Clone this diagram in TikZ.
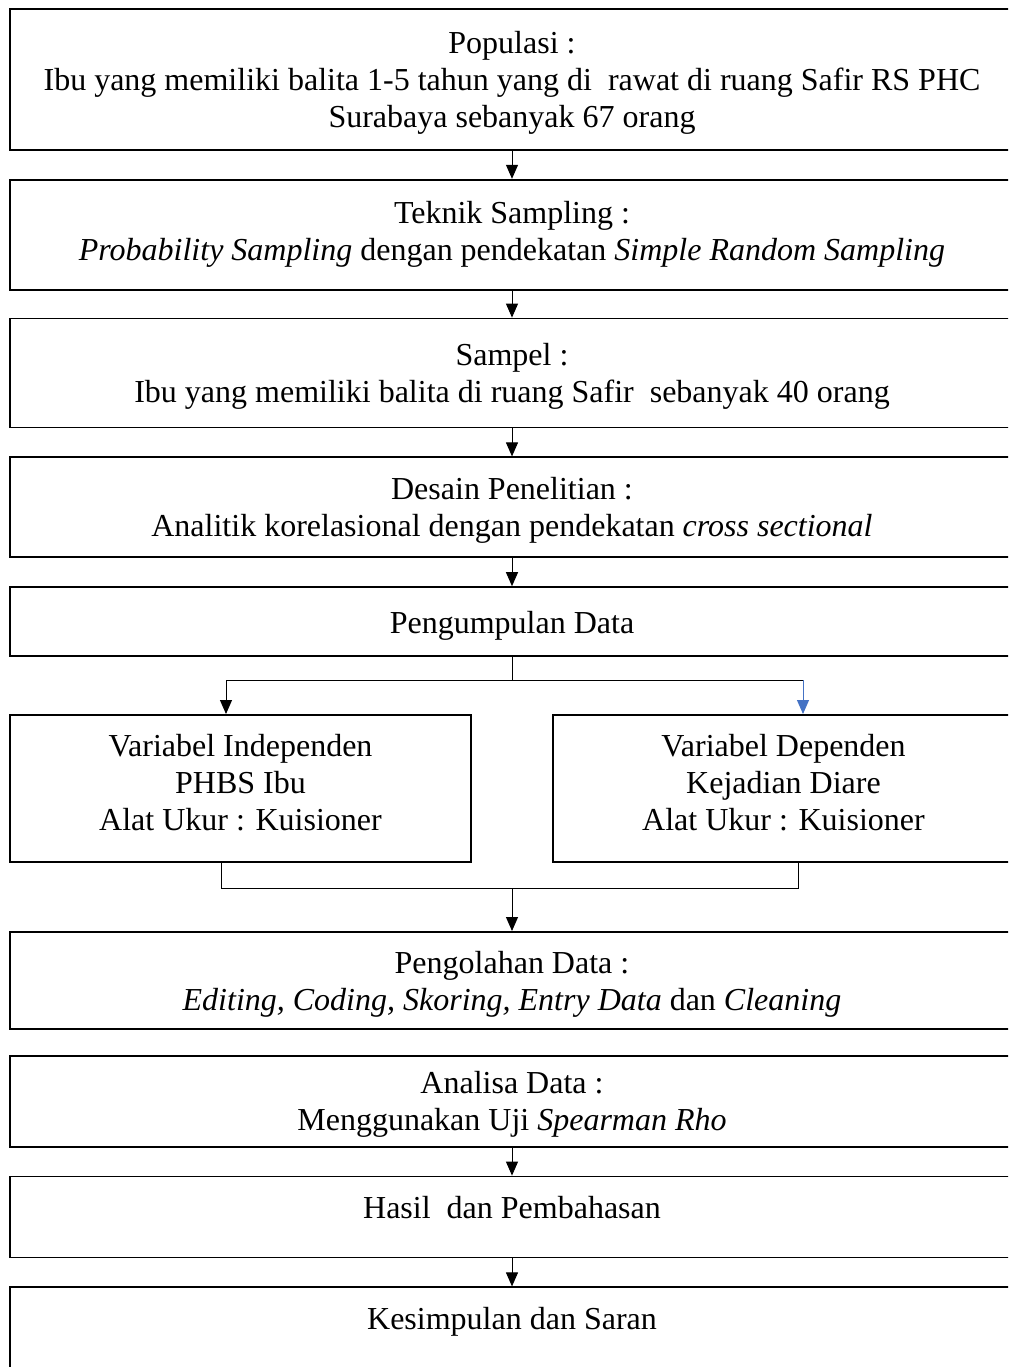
\documentclass[tikz,border=0pt]{standalone}
\usepackage{fontspec}
\setmainfont{Liberation Serif}
\usetikzlibrary{positioning,arrows.meta}
\definecolor{arrowblue}{HTML}{4472C4}

\tikzset{
  box/.style={draw,line width=0.9pt,minimum width=502pt,align=center,
    inner sep=0pt,font=\fontsize{16}{18.5}\selectfont},
  varbox/.style={box,minimum width=230.5pt,minimum height=73.5pt,text depth=6.5pt},
  link/.style={line width=0.5pt,-{Triangle[length=7pt,width=6pt]}},
  wire/.style={line width=0.5pt},
}

\begin{document}
\begin{tikzpicture}
   \useasboundingbox (0,0) rectangle (504pt,-683.5pt);
   \clip (0,0) rectangle (504pt,-683.5pt);

   \node[box,minimum height=70.5pt,text depth=-0.5pt,anchor=north] (popul) at (256pt,-4pt)
      {Populasi :\\Ibu yang memiliki balita 1-5 tahun yang di~ rawat di ruang Safir RS PHC\\Surabaya sebanyak 67 orang};
   \node[box,minimum height=55pt] (teknik) [below=14pt of popul]
      {Teknik Sampling :\\\textit{Probability Sampling} dengan pendekatan \textit{Simple Random Sampling}};
   \node[box,minimum height=54.5pt,text depth=-0.5pt] (sampel) [below=13.5pt of teknik]
      {Sampel :\\Ibu yang memiliki balita di ruang Safir~ sebanyak 40 orang};
   \node[box,minimum height=50pt,text depth=0pt] (desain) [below=14pt of sampel]
      {Desain Penelitian :\\Analitik korelasional dengan pendekatan \textit{cross sectional}};
   \node[box,minimum height=34.5pt,text height=15pt,text depth=3.5pt] (kumpul) [below=14pt of desain]
      {Pengumpulan Data};
   \node[varbox,below=28.5pt of kumpul.south west,anchor=north west] (varL)
      {Variabel Independen\\PHBS Ibu\\Alat Ukur : Kuisioner};
   \node[varbox,below=28.5pt of kumpul.south east,anchor=north east] (varR)
      {Variabel Dependen\\Kejadian Diare\\Alat Ukur : Kuisioner};

   \coordinate (splitL) at (113pt,-340pt);
   \coordinate (splitR) at (401.5pt,-340pt);
   \coordinate (split) at (kumpul.south |- splitL);
   \coordinate (joinL) at (110.5pt,-444pt);
   \coordinate (joinR) at (399pt,-444pt);
   \coordinate (join) at (256pt,-444pt);

   \node[box,minimum height=48.5pt,text depth=-4pt] (olah) [below=21.5pt of join]
      {Pengolahan Data :\\\textit{Editing, Coding, Skoring, Entry Data} dan \textit{Cleaning}};
   \node[box,minimum height=45.5pt,text depth=-5.5pt] (analisa) [below=12.5pt of olah]
      {Analisa Data :\\Menggunakan Uji \textit{Spearman Rho}};
   \node[box,minimum height=40.5pt,text height=10pt,text depth=9pt] (hasil) [below=14pt of analisa]
      {Hasil~ dan Pembahasan};
   \node[box,minimum height=56pt,text height=10pt,text depth=24pt] (simpul) [below=14pt of hasil]
      {Kesimpulan dan Saran};

   % arrows between the boxes
   \draw[link] (popul) -- (teknik);
   \draw[link] (teknik) -- (sampel);
   \draw[link] (sampel) -- (desain);
   \draw[link] (desain) -- (kumpul);
   \draw[wire] (kumpul.south) -- (split);
   \draw[wire] (splitL) -- (splitR);
   \draw[link] (splitL) -- (splitL |- varL.north);
   \draw[link,arrowblue] (splitR) -- (splitR |- varR.north);
   \draw[wire] (joinL |- varL.south) -- (joinL) -- (joinR) -- (joinR |- varR.south);
   \draw[link] (join) -- (olah);
   \draw[link] (analisa) -- (hasil);
   \draw[link] (hasil) -- (simpul);
\end{tikzpicture}
\end{document}
